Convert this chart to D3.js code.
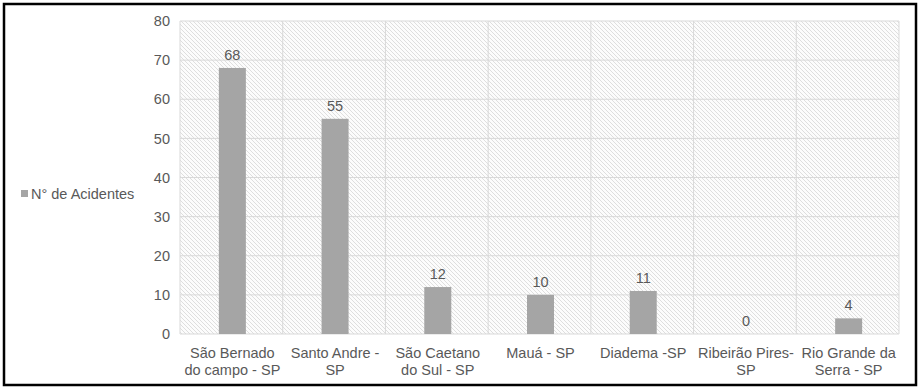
<!DOCTYPE html>
<html><head><meta charset="utf-8">
<script src="https://cdn.jsdelivr.net/npm/d3@7"></script>
<style>body{margin:0;background:#fff;font-family:Arial,"Liberation Sans",sans-serif;}</style>
</head><body>
<svg id="c" width="924" height="390"></svg>
<script>
const categories = [["São Bernado","do campo - SP"],["Santo Andre -","SP"],["São Caetano","do Sul - SP"],["Mauá - SP"],["Diadema -SP"],["Ribeirão Pires-","SP"],["Rio Grande da","Serra - SP"]];
const values = [68,55,12,10,11,0,4];
const yTicks = [0,10,20,30,40,50,60,70,80];
const seriesName = "N° de Acidentes";

const FS = 14.5;
const FF = "Arial, 'Liberation Sans', sans-serif";
const TXT = "#595959";

const svg = d3.select("#c").attr("font-family",FF);
const defs = svg.append("defs");
const pat = defs.append("pattern").attr("id","hatch").attr("patternUnits","userSpaceOnUse")
  .attr("width",4).attr("height",4);
pat.append("rect").attr("width",4).attr("height",4).attr("fill","#fcfcfc");
pat.append("path").attr("d","M-1,-1 L5,5 M-1,3 L1,5 M3,-1 L5,1").attr("stroke","#dedede").attr("stroke-width",1);

svg.append("rect").attr("x",4).attr("y",4).attr("width",912).attr("height",381)
  .attr("fill","#fff").attr("stroke","#000").attr("stroke-width",2.5);

const L=180,R=899,T=21,B=334;
const x = d3.scaleBand().domain(d3.range(categories.length)).range([L,R]);
const y = d3.scaleLinear().domain([0,80]).range([B,T]);

svg.append("rect").attr("x",L).attr("y",T).attr("width",R-L).attr("height",B-T).attr("fill","url(#hatch)");

const grid = svg.append("g");
grid.selectAll(".h").data(yTicks).join("line")
  .attr("x1",L).attr("x2",R).attr("y1",d=>y(d)).attr("y2",d=>y(d))
  .attr("stroke","#d9d9d9").attr("stroke-width",1);
grid.selectAll(".v").data(d3.range(categories.length+1)).join("line")
  .attr("x1",d=>L+d*x.step()).attr("x2",d=>L+d*x.step()).attr("y1",T).attr("y2",B)
  .attr("stroke","#d9d9d9").attr("stroke-width",1);

const yAxis = d3.axisLeft(y).tickValues(yTicks).tickSize(0).tickPadding(10);
const ga = svg.append("g").attr("transform",`translate(${L},0)`).call(yAxis);
ga.select(".domain").remove();
ga.selectAll("text").attr("fill",TXT).attr("font-size",FS).attr("font-family",FF);

const bw = 27;
svg.selectAll(".bar").data(values).join("rect")
  .attr("x",(d,i)=>x(i)+x.bandwidth()/2-bw/2+1).attr("width",bw)
  .attr("y",d=>y(d)).attr("height",d=>B-y(d)).attr("fill","#a5a5a5");

svg.selectAll(".lbl").data(values).join("text")
  .attr("x",(d,i)=>x(i)+x.bandwidth()/2+1).attr("y",d=>y(d)-8)
  .attr("text-anchor","middle").attr("fill",TXT).attr("font-size",FS).text(d=>d);

const xl = svg.selectAll(".xl").data(categories).join("text")
  .attr("text-anchor","middle").attr("fill",TXT).attr("font-size",FS);
xl.each(function(d,i){
  const t=d3.select(this);
  d.forEach((s,k)=>t.append("tspan").attr("x",x(i)+x.bandwidth()/2+1).attr("y",358+k*17).text(s));
});

svg.append("rect").attr("x",21).attr("y",190).attr("width",7).attr("height",7).attr("fill","#a5a5a5");
svg.append("text").attr("x",31).attr("y",199).attr("fill",TXT).attr("font-size",FS).text(seriesName);
</script>
</body></html>
